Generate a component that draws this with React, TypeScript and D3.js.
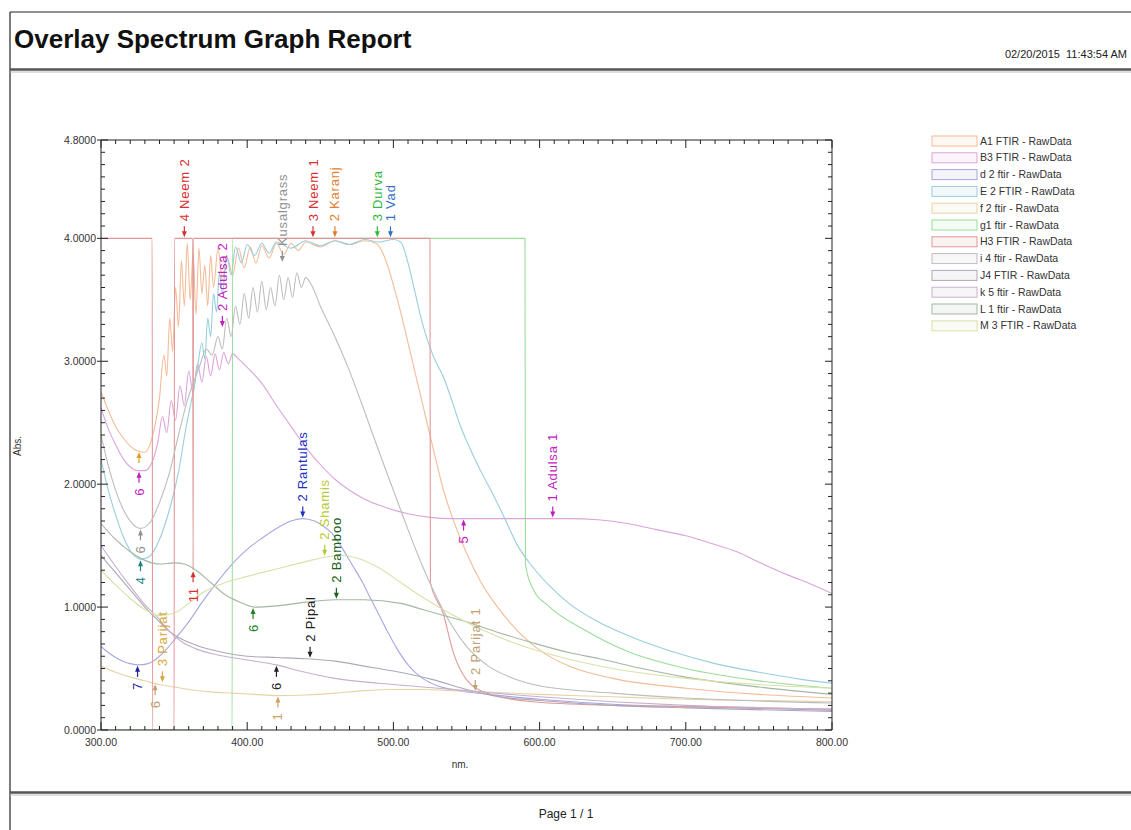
import React from "react";
import * as d3 from "d3";

type Pt = [number, number];

// spectra: [wavelength nm, absorbance]
const karanj: Pt[] = [[300,2.75],[305,2.6],[310,2.47],[315,2.38],[320,2.31],[325,2.27],[330,2.26],[335,2.38],[340,2.7],[343,3.05],[345,2.88],[347,3.35],[349,3.08],[351,3.6],[353,3.28],[355,3.82],[357,3.45],[359,3.96],[361,3.5],[363,3.88],[365,3.38],[367,3.92],[369,3.55],[371,3.78],[373,3.45],[375,3.86],[377,3.6],[380,3.92],[383,3.66],[386,3.86],[390,3.7],[394,3.92],[398,3.76],[402,3.93],[406,3.8],[410,3.94],[415,3.84],[420,3.96],[425,3.87],[430,3.96],[435,3.9],[440,3.97],[450,3.93],[460,3.98],[470,3.95],[480,3.98],[488,3.96],[492,3.9],[496,3.78],[500,3.62],[505,3.4],[510,3.15],[515,2.9],[520,2.65],[525,2.4],[530,2.15],[535,1.92],[540,1.74],[550,1.44],[560,1.2],[570,1.02],[580,0.87],[600,0.65],[620,0.52],[650,0.42],[700,0.34],[750,0.29],[800,0.26]];
const adulsa: Pt[] = [[300,2.62],[305,2.45],[310,2.32],[315,2.21],[320,2.14],[325,2.11],[330,2.11],[335,2.18],[339,2.35],[342,2.55],[345,2.42],[348,2.68],[351,2.52],[354,2.8],[357,2.64],[360,2.92],[363,2.74],[366,2.98],[369,2.83],[372,3.04],[375,2.88],[378,3.06],[381,2.93],[384,3.07],[387,2.98],[390,3.06],[394,3.02],[400,2.95],[410,2.82],[420,2.64],[430,2.47],[440,2.3],[450,2.16],[460,2.04],[470,1.95],[480,1.88],[490,1.83],[500,1.79],[510,1.76],[525,1.73],[540,1.72],[560,1.72],[580,1.72],[600,1.72],[620,1.72],[640,1.71],[660,1.68],[680,1.63],[700,1.58],[717,1.52],[735,1.45],[751,1.36],[770,1.26],[785,1.19],[800,1.11]];
const rantulas: Pt[] = [[300,0.68],[305,0.63],[310,0.59],[315,0.56],[320,0.54],[326,0.53],[332,0.54],[338,0.58],[345,0.66],[352,0.76],[360,0.88],[368,1.02],[376,1.15],[384,1.27],[392,1.38],[400,1.47],[410,1.56],[420,1.64],[430,1.7],[438,1.72],[446,1.7],[452,1.66],[458,1.6],[465,1.48],[472,1.34],[478,1.22],[484,1.08],[490,0.94],[496,0.8],[502,0.67],[510,0.53],[520,0.42],[530,0.36],[545,0.32],[565,0.29],[600,0.25],[650,0.21],[700,0.19],[800,0.16]];
const vad: Pt[] = [[300,2.2],[305,1.95],[310,1.75],[315,1.58],[320,1.46],[327,1.39],[333,1.41],[340,1.55],[347,1.8],[353,2.1],[358,2.45],[363,2.75],[366,2.95],[369,3.15],[371,3.02],[373,3.35],[375,3.2],[377,3.55],[379,3.4],[381,3.72],[383,3.55],[386,3.85],[389,3.7],[392,3.93],[396,3.8],[400,3.95],[405,3.86],[410,3.96],[415,3.88],[420,3.97],[430,3.92],[440,3.98],[450,3.94],[460,3.98],[470,3.95],[480,3.99],[490,3.97],[500,3.99],[505,3.97],[510,3.8],[515,3.55],[520,3.3],[527,3.05],[535,2.85],[540,2.68],[545,2.5],[552,2.3],[560,2.1],[568,1.92],[575,1.75],[585,1.5],[595,1.33],[607,1.17],[620,1.03],[640,0.88],[660,0.77],[690,0.64],[720,0.54],[750,0.47],[780,0.41],[800,0.38]];
const parijat: Pt[] = [[300,0.52],[310,0.47],[320,0.43],[330,0.4],[340,0.37],[350,0.35],[360,0.33],[375,0.31],[390,0.3],[405,0.29],[420,0.28],[440,0.285],[460,0.3],[480,0.32],[500,0.33],[520,0.33],[540,0.32],[560,0.31],[600,0.29],[650,0.27],[700,0.25],[750,0.24],[800,0.23]];
const durva: Pt[] = [[300,0],[389.7,0],[390,4.0],[590,4.0],[590.3,1.35],[595,1.16],[607,1.0],[630,0.82],[660,0.64],[700,0.5],[750,0.4],[800,0.34]];
const neem: Pt[] = [[300,4.0],[335,4.0],[335.3,0],[350,0],[350.3,4.0],[362.7,4.0],[363,1.3],[363.3,4.0],[525,4.0],[525.3,1.2],[534,0.95],[541,0.63],[550,0.41],[564,0.3],[595,0.23],[650,0.2],[700,0.19],[800,0.17]];
const kusalgrass: Pt[] = [[300,2.4],[305,2.15],[310,1.95],[315,1.8],[320,1.7],[327,1.64],[333,1.68],[340,1.85],[347,2.1],[353,2.4],[359,2.68],[364,2.85],[368,2.98],[372,3.1],[376,3.05],[380,3.2],[383,3.1],[386,3.35],[389,3.2],[392,3.45],[395,3.3],[398,3.55],[401,3.35],[404,3.6],[407,3.4],[410,3.65],[413,3.42],[416,3.6],[419,3.45],[422,3.7],[425,3.5],[428,3.68],[431,3.52],[434,3.72],[437,3.6],[440,3.68],[444,3.62],[450,3.45],[460,3.2],[470,2.92],[480,2.6],[490,2.27],[500,1.95],[510,1.63],[520,1.33],[530,1.07],[540,0.85],[550,0.68],[565,0.52],[580,0.43],[600,0.36],[650,0.3],[700,0.26],[800,0.22]];
const pipal: Pt[] = [[300,1.42],[310,1.28],[320,1.14],[330,1.0],[340,0.88],[347,0.8],[355,0.74],[365,0.69],[380,0.64],[400,0.6],[420,0.59],[440,0.58],[460,0.56],[480,0.52],[500,0.48],[527,0.41],[550,0.33],[573,0.27],[600,0.24],[650,0.2],[700,0.18],[800,0.15]];
const kapur: Pt[] = [[300,1.5],[310,1.33],[320,1.17],[330,1.02],[340,0.9],[347,0.8],[355,0.72],[365,0.66],[380,0.61],[400,0.57],[420,0.53],[436,0.48],[460,0.42],[490,0.38],[520,0.35],[550,0.32],[600,0.27],[650,0.23],[700,0.2],[800,0.17]];
const bamboo: Pt[] = [[300,1.68],[310,1.55],[320,1.45],[330,1.38],[340,1.35],[350,1.36],[357,1.35],[365,1.3],[375,1.2],[385,1.1],[395,1.04],[405,1.0],[420,1.01],[440,1.04],[460,1.06],[480,1.06],[505,1.03],[520,0.98],[535,0.93],[550,0.88],[570,0.8],[595,0.71],[620,0.63],[641,0.58],[670,0.5],[700,0.43],[750,0.35],[800,0.29]];
const shamis: Pt[] = [[300,1.3],[310,1.18],[320,1.07],[330,0.98],[340,0.93],[350,0.95],[360,1.03],[370,1.12],[385,1.2],[400,1.25],[420,1.31],[440,1.37],[455,1.41],[465,1.42],[475,1.4],[490,1.32],[505,1.2],[520,1.08],[540,0.94],[560,0.82],[580,0.72],[600,0.64],[650,0.5],[700,0.42],[750,0.37],[800,0.34]];

const legendNames = ["A1 FTIR - RawData", "B3 FTIR - RawData", "d 2 ftir - RawData", "E 2 FTIR - RawData", "f 2 ftir - RawData", "g1 ftir - RawData", "H3 FTIR - RawData", "i 4 ftir - RawData", "J4 FTIR - RawData", "k 5 ftir - RawData", "L 1 ftir - RawData", "M 3 FTIR - RawData"];
const seriesData = [karanj, adulsa, rantulas, vad, parijat, durva, neem, kusalgrass, pipal, kapur, bamboo, shamis];
const seriesColors = ["#f4bc98", "#dca4da", "#a6a6e2", "#98cede", "#e6d4a8", "#9ade9a", "#e29898", "#bdbdbd", "#aea8b6", "#c6b0ce", "#a2b8a2", "#d8e2a8"];

// peak / valley markers: nm, abs, text, colour, above (peak) or below (valley)
const markers: { nm: number; abs: number; text: string; color: string; peak: boolean }[] = [
  { nm: 357, abs: 4.0, text: "4 Neem 2", color: "#d83030", peak: true },
  { nm: 424, abs: 3.8, text: "Kusalgrass", color: "#909090", peak: true },
  { nm: 445, abs: 4.0, text: "3 Neem 1", color: "#d83030", peak: true },
  { nm: 460, abs: 4.0, text: "2 Karanj", color: "#e08030", peak: true },
  { nm: 489, abs: 4.0, text: "3 Durva", color: "#30b840", peak: true },
  { nm: 498, abs: 4.0, text: "1 Vad", color: "#3070c8", peak: true },
  { nm: 383, abs: 3.27, text: "2 Adulsa 2", color: "#c020c0", peak: true },
  { nm: 609, abs: 1.72, text: "1 Adulsa 1", color: "#c020c0", peak: true },
  { nm: 438, abs: 1.72, text: "2 Rantulas", color: "#2030c0", peak: true },
  { nm: 453, abs: 1.41, text: "2 Shamis", color: "#b8c830", peak: true },
  { nm: 461, abs: 1.06, text: "2 Bamboo", color: "#206020", peak: true },
  { nm: 443, abs: 0.58, text: "2 Pipal", color: "#202020", peak: true },
  { nm: 342, abs: 0.38, text: "3 Parijat", color: "#d8a840", peak: true },
  { nm: 556, abs: 0.31, text: "2 Parijat 1", color: "#c0a070", peak: true },
  { nm: 326, abs: 2.27, text: "", color: "#e0a020", peak: false },
  { nm: 326, abs: 2.11, text: "6", color: "#c020c0", peak: false },
  { nm: 327, abs: 1.64, text: "6", color: "#909090", peak: false },
  { nm: 327, abs: 1.39, text: "4", color: "#208080", peak: false },
  { nm: 363, abs: 1.3, text: "11", color: "#d83030", peak: false },
  { nm: 404, abs: 1.0, text: "6", color: "#208020", peak: false },
  { nm: 325, abs: 0.53, text: "7", color: "#2020a0", peak: false },
  { nm: 420, abs: 0.53, text: "6", color: "#202020", peak: false },
  { nm: 548, abs: 1.72, text: "5", color: "#c020c0", peak: false },
  { nm: 421, abs: 0.28, text: "1", color: "#d0a060", peak: false },
  { nm: 337, abs: 0.38, text: "6", color: "#c0a070", peak: false },
];

const xTicks = [300, 400, 500, 600, 700, 800];
const yTicks = [0, 1, 2, 3, 4, 4.8];

const FONT = "'Liberation Sans', Arial, Helvetica, sans-serif";

export default function App() {
  const x = d3.scaleLinear().domain([300, 800]).range([101, 832]);
  const y = d3.scaleLinear().domain([0, 4.8]).range([730, 140]);
  const line = d3
    .line<Pt>()
    .x((d) => x(d[0]))
    .y((d) => y(d[1]))
    .curve(d3.curveMonotoneX);

  const [x0, x1] = x.range();
  const [y0, y1] = y.range();
  const xMinor = d3.range(300, 801, 10);
  const yMinor = d3.range(0, 48.5, 1).map((v) => v / 10);

  return (
    <svg width={1131} height={830} style={{ position: "absolute", left: 0, top: 0, background: "#fff" }} fontFamily={FONT}>
      <defs>
        <clipPath id="plot">
          <rect x={x0} y={y1} width={x1 - x0} height={y0 - y1} />
        </clipPath>
      </defs>

      {/* page frame */}
      <line x1={10} y1={12} x2={1131} y2={12} stroke="#222" strokeWidth={1.2} />
      <line x1={10} y1={12} x2={10} y2={830} stroke="#222" strokeWidth={1.2} />
      <text x={14} y={48} fontSize={26} fontWeight="bold" fill="#111">Overlay Spectrum Graph Report</text>
      <text x={1127} y={58} fontSize={11} textAnchor="end" fill="#222" style={{ whiteSpace: "pre" }}>
        {"02/20/2015  11:43:54 AM"}
      </text>
      <line x1={10} y1={69.5} x2={1131} y2={69.5} stroke="#555" strokeWidth={2.5} />
      <line x1={10} y1={72} x2={1131} y2={72} stroke="#bbb" strokeWidth={1} />
      <line x1={10} y1={792.5} x2={1131} y2={792.5} stroke="#555" strokeWidth={2.5} />
      <line x1={10} y1={795} x2={1131} y2={795} stroke="#bbb" strokeWidth={1} />
      <text x={566} y={818} fontSize={12} textAnchor="middle" fill="#222">Page 1 / 1</text>

      {/* spectra */}
      <g clipPath="url(#plot)">
        {seriesData.map((d, i) => (
          <path key={i} d={line(d) || ""} fill="none" stroke={seriesColors[i]} strokeWidth={1.1} />
        ))}
      </g>

      {/* markers */}
      {markers.map((m, i) => {
        const px = x(m.nm);
        const py = y(m.abs);
        const s = m.peak ? -1 : 1;
        return (
          <g key={i} transform={`translate(${px},${py})`} fill={m.color} stroke="none">
            <path d={`M0,${s * 1} L-2.5,${s * 7} L2.5,${s * 7} Z`} />
            <line x1={0} y1={s * 6} x2={0} y2={s * 12} stroke={m.color} strokeWidth={1.2} />
            {m.text && (
              <text
                transform={`translate(0,${s * 17}) rotate(-90)`}
                textAnchor={m.peak ? "start" : "end"}
                dy="0.35em"
                fontSize={13}
                letterSpacing={0.8}
              >
                {m.text}
              </text>
            )}
          </g>
        );
      })}

      {/* axes frame */}
      <g stroke="#222" strokeWidth={1}>
        <line x1={x0} y1={y0} x2={x1} y2={y0} />
        <line x1={x0} y1={y1} x2={x1} y2={y1} />
        <line x1={x0} y1={y0} x2={x0} y2={y1} />
        <line x1={x1} y1={y0} x2={x1} y2={y1} />
        {xMinor.map((v) => {
          const major = v % 100 === 0;
          const len = major ? 8 : 4;
          return (
            <g key={v}>
              <line x1={x(v)} x2={x(v)} y1={y0} y2={y0 - len} />
              <line x1={x(v)} x2={x(v)} y1={y1} y2={y1 + len} />
            </g>
          );
        })}
        {yMinor.map((v) => {
          const major = yTicks.some((t) => Math.abs(t - v) < 1e-6);
          const len = major ? 7 : 4;
          return (
            <g key={v}>
              <line x1={major ? x0 - 4 : x0} x2={x0 + len} y1={y(v)} y2={y(v)} />
              <line x1={x1} x2={x1 - len} y1={y(v)} y2={y(v)} />
            </g>
          );
        })}
      </g>
      {yTicks.map((v) => (
        <text key={v} x={x0 - 5} y={y(v)} dy="0.35em" fontSize={10.5} textAnchor="end" fill="#333">
          {d3.format(".4f")(v)}
        </text>
      ))}
      {xTicks.map((v) => (
        <text key={v} x={x(v)} y={y0 + 16} fontSize={10.5} textAnchor="middle" fill="#333">
          {d3.format(".2f")(v)}
        </text>
      ))}
      <text transform="translate(21,446) rotate(-90)" fontSize={10} textAnchor="middle" fill="#333">Abs.</text>
      <text x={460} y={768} fontSize={10} textAnchor="middle" fill="#333">nm.</text>

      {/* legend */}
      {legendNames.map((n, i) => {
        const cy = 141 + i * 16.8;
        return (
          <g key={n}>
            <rect x={932} y={cy - 5} width={45} height={10} fill={seriesColors[i]} fillOpacity={0.12} stroke={seriesColors[i]} strokeWidth={1} />
            <text x={980} y={cy} dy="0.35em" fontSize={10.5} fill="#333">{n}</text>
          </g>
        );
      })}
    </svg>
  );
}
